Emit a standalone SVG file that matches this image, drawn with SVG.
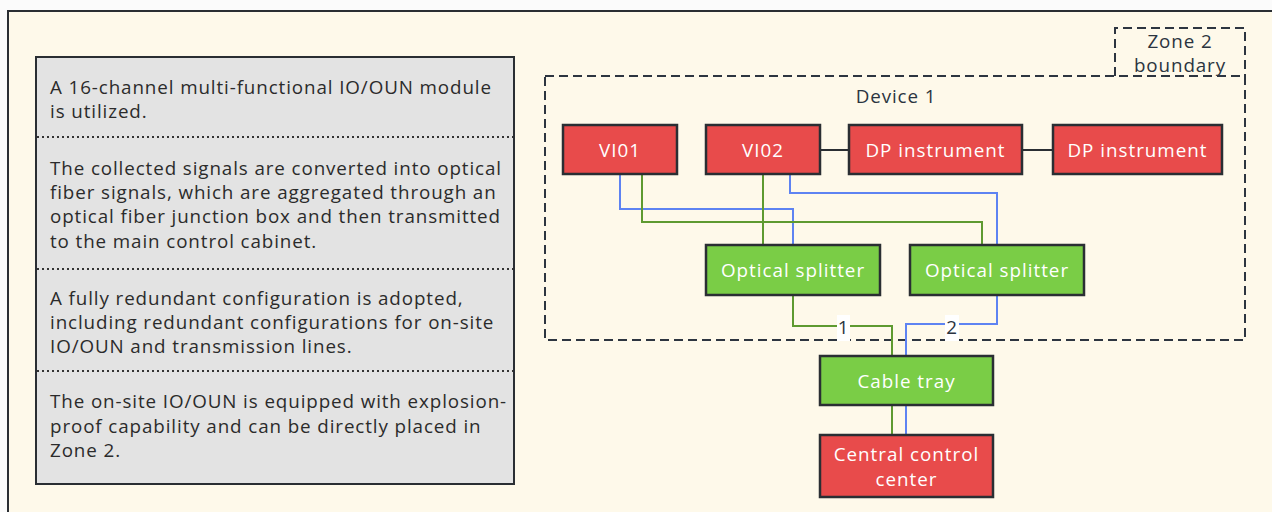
<svg xmlns="http://www.w3.org/2000/svg" width="1272" height="512" viewBox="0 0 1272 512">
<defs>
<style>
text{font-family:"Open Sans","Noto Sans","DejaVu Sans",sans-serif;}
.ptxt{font-size:18.8px;letter-spacing:0.9px;fill:#2b2b2b;}
.ntxt{font-size:18.8px;letter-spacing:1px;fill:#ffffff;text-anchor:middle;dominant-baseline:central;}
.red{fill:#E84B4B;stroke:#2A2E33;stroke-width:2.5;}
.grn{fill:#7ACD46;stroke:#2A2E33;stroke-width:2.5;}
.bl{fill:none;stroke:#5E83F2;stroke-width:2;}
.gl{fill:none;stroke:#5E9A30;stroke-width:2;}
.kl{fill:none;stroke:#2A2E33;stroke-width:2;}
.dash{fill:none;stroke:#2D3540;stroke-width:2;stroke-dasharray:9 5;}
.dot{stroke:#333;stroke-width:2;stroke-dasharray:2 3;}
.lbl{font-size:18.8px;letter-spacing:0.9px;fill:#2b3440;text-anchor:middle;dominant-baseline:central;}
</style>
</defs>
<rect x="0" y="0" width="1272" height="512" fill="#FBFBFB"/>
<rect x="8" y="11" width="1280" height="520" fill="#FEF9EA" stroke="#2A2E33" stroke-width="2"/>

<g id="notes">
<rect x="36" y="57" width="478" height="427" fill="#E3E3E3" stroke="#2A2E33" stroke-width="2"/>
<line class="dot" x1="37" y1="137" x2="513" y2="137"/>
<line class="dot" x1="37" y1="269" x2="513" y2="269"/>
<line class="dot" x1="37" y1="371" x2="513" y2="371"/>
<text class="ptxt" x="50" y="94">A 16-channel multi-functional IO/OUN module</text>
<text class="ptxt" x="50" y="118">is utilized.</text>
<text class="ptxt" x="50" y="175">The collected signals are converted into optical</text>
<text class="ptxt" x="50" y="199">fiber signals, which are aggregated through an</text>
<text class="ptxt" x="50" y="223">optical fiber junction box and then transmitted</text>
<text class="ptxt" x="50" y="248">to the main control cabinet.</text>
<text class="ptxt" x="50" y="305">A fully redundant configuration is adopted,</text>
<text class="ptxt" x="50" y="329">including redundant configurations for on-site</text>
<text class="ptxt" x="50" y="353">IO/OUN and transmission lines.</text>
<text class="ptxt" x="50" y="408">The on-site IO/OUN is equipped with explosion-</text>
<text class="ptxt" x="50" y="433">proof capability and can be directly placed in</text>
<text class="ptxt" x="50" y="457">Zone 2.</text>
</g>

<g id="zone2">
<path class="dash" d="M1115,76 L1115,28 L1245,28 L1245,76"/>
<text class="lbl" x="1180" y="41">Zone 2</text>
<text class="lbl" x="1180" y="65">boundary</text>
</g>

<g id="device1">
<rect class="dash" x="545" y="76" width="700" height="264"/>
<text class="lbl" x="896" y="96">Device 1</text>
</g>

<g id="connectors">
<line class="kl" x1="820" y1="150" x2="849" y2="150"/>
<line class="kl" x1="1022" y1="150" x2="1053" y2="150"/>
<path class="bl" d="M620,174 V209 H793 V245"/>
<path class="gl" d="M642,174 V222 H982 V245"/>
<path class="gl" d="M763,174 V245"/>
<path class="bl" d="M790,174 V193 H997 V245"/>
<path class="gl" d="M793,295 V326 H892 V356"/>
<path class="bl" d="M997,295 V324 H906 V356"/>
<path class="gl" d="M892,405 V435"/>
<path class="bl" d="M906,405 V435"/>
<rect x="837" y="315" width="13" height="26" fill="#ffffff"/>
<text class="lbl" x="843.5" y="327">1</text>
<rect x="945" y="315" width="14" height="26" fill="#ffffff"/>
<text class="lbl" x="952" y="327">2</text>
</g>

<g id="vi01">
<rect class="red" x="563" y="125" width="114" height="49"/>
<text class="ntxt" x="620" y="150">VI01</text>
</g>
<g id="vi02">
<rect class="red" x="706" y="125" width="114" height="49"/>
<text class="ntxt" x="763" y="150">VI02</text>
</g>
<g id="dp1">
<rect class="red" x="849" y="125" width="173" height="49"/>
<text class="ntxt" x="935.5" y="150">DP instrument</text>
</g>
<g id="dp2">
<rect class="red" x="1053" y="125" width="169" height="49"/>
<text class="ntxt" x="1137.5" y="150">DP instrument</text>
</g>
<g id="splitter1">
<rect class="grn" x="706" y="245" width="174" height="50"/>
<text class="ntxt" x="793" y="270">Optical splitter</text>
</g>
<g id="splitter2">
<rect class="grn" x="910" y="245" width="174" height="50"/>
<text class="ntxt" x="997" y="270">Optical splitter</text>
</g>
<g id="cabletray">
<rect class="grn" x="820" y="356" width="173" height="49"/>
<text class="ntxt" x="906.5" y="381">Cable tray</text>
</g>
<g id="ccc">
<rect class="red" x="820" y="435" width="173" height="62"/>
<text class="ntxt" x="906.5" y="454">Central control</text>
<text class="ntxt" x="906.5" y="479">center</text>
</g>
</svg>
